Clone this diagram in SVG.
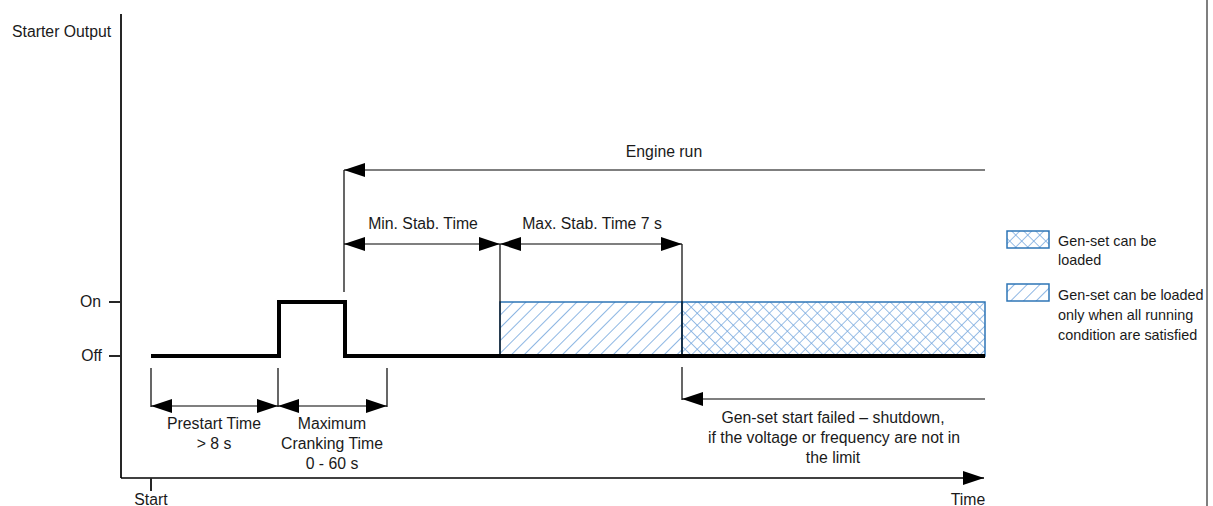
<svg xmlns="http://www.w3.org/2000/svg" width="1213" height="506" viewBox="0 0 1213 506">
<style>
text{font-family:"Liberation Sans",Arial,sans-serif;font-size:15.8px;fill:#1a1a1a}
.c{text-anchor:middle}
.e{text-anchor:end}
.lg{font-size:14.4px}
.axis{stroke:#262626;stroke-width:2;fill:none}
.thin{stroke:#000;stroke-width:1.2;fill:none}
.sig{stroke:#000;stroke-width:4;fill:none;stroke-linejoin:miter}
.hb{stroke:#2e75b6;stroke-width:1.5}
</style>
<defs>
<marker id="ah" markerUnits="userSpaceOnUse" markerWidth="21" markerHeight="14" refX="21" refY="7" orient="auto-start-reverse" viewBox="0 0 21 14">
<path d="M0,0 L21,7 L0,14 z" fill="#000"/>
</marker>
<pattern id="diag" patternUnits="userSpaceOnUse" width="9" height="9" patternTransform="rotate(45)">
<line x1="0" y1="0" x2="0" y2="9" stroke="#6fa3dc" stroke-width="1.6"/>
</pattern>
<pattern id="cross" patternUnits="userSpaceOnUse" width="8.5" height="8.5" patternTransform="rotate(45)">
<line x1="0" y1="0" x2="0" y2="8.5" stroke="#6fa3dc" stroke-width="1.4"/>
<line x1="0" y1="0" x2="8.5" y2="0" stroke="#6fa3dc" stroke-width="1.4"/>
</pattern>
</defs>
<rect width="1213" height="506" fill="#fff"/>
<line x1="1207" y1="0" x2="1207" y2="506" stroke="#7f7f7f" stroke-width="2"/>

<g id="hatch-areas">
<rect x="500" y="302" width="182" height="54" fill="url(#diag)" class="hb"/>
<rect x="682" y="302" width="303" height="54" fill="url(#cross)" class="hb"/>
</g>

<g id="axes">
<line class="axis" x1="121" y1="14" x2="121" y2="478"/>
<line x1="121" y1="478" x2="984" y2="478" stroke="#000" stroke-width="1.6" marker-end="url(#ah)"/>
<line class="axis" x1="109" y1="302" x2="121" y2="302"/>
<line class="axis" x1="109" y1="356" x2="121" y2="356"/>
<line class="axis" x1="151" y1="478" x2="151" y2="491"/>
<text x="12" y="37">Starter Output</text>
<text class="e" x="101" y="307">On</text>
<text class="e" x="102" y="361">Off</text>
<text class="c" x="151" y="505">Start</text>
<text class="c" x="968" y="505">Time</text>
</g>

<g id="signal">
<path class="sig" d="M151,356 H279 V302 H345 V356 H985"/>
</g>

<g id="connectors">
<line class="thin" x1="151" y1="368" x2="151" y2="407"/>
<line class="thin" x1="278" y1="368" x2="278" y2="407"/>
<line class="thin" x1="387" y1="368" x2="387" y2="407"/>
<line class="thin" x1="151" y1="406" x2="278" y2="406" marker-start="url(#ah)" marker-end="url(#ah)"/>
<line class="thin" x1="278" y1="406" x2="387" y2="406" marker-start="url(#ah)" marker-end="url(#ah)"/>
<line class="thin" x1="344" y1="170" x2="344" y2="292"/>
<line class="thin" x1="985" y1="170" x2="344" y2="170" marker-end="url(#ah)"/>
<line class="thin" x1="500" y1="244" x2="500" y2="356"/>
<line class="thin" x1="682" y1="244" x2="682" y2="356"/>
<line class="thin" x1="344" y1="244" x2="500" y2="244" marker-start="url(#ah)" marker-end="url(#ah)"/>
<line class="thin" x1="500" y1="244" x2="682" y2="244" marker-start="url(#ah)" marker-end="url(#ah)"/>
<line class="thin" x1="682" y1="367" x2="682" y2="400"/>
<line class="thin" x1="985" y1="399" x2="682" y2="399" marker-end="url(#ah)"/>
</g>

<g id="labels">
<text class="c" x="214" y="429">Prestart Time</text>
<text class="c" x="214" y="449">&gt; 8 s</text>
<text class="c" x="332" y="429">Maximum</text>
<text class="c" x="332" y="449">Cranking Time</text>
<text class="c" x="332" y="469">0 - 60 s</text>
<text class="c" x="664" y="157">Engine run</text>
<text class="c" x="423" y="229">Min. Stab. Time</text>
<text class="c" x="592" y="229">Max. Stab. Time 7 s</text>
<text class="c" x="833" y="423">Gen-set start failed – shutdown,</text>
<text class="c" x="834" y="443">if the voltage or frequency are not in</text>
<text class="c" x="833" y="463">the limit</text>
</g>

<g id="legend">
<rect x="1007" y="231" width="42" height="17" fill="url(#cross)" class="hb"/>
<text class="lg" x="1058" y="246">Gen-set can be</text>
<text class="lg" x="1058" y="265">loaded</text>
<rect x="1007" y="284" width="42" height="17" fill="url(#diag)" class="hb"/>
<text class="lg" x="1058" y="300">Gen-set can be loaded</text>
<text class="lg" x="1058" y="320">only when all running</text>
<text class="lg" x="1058" y="340">condition are satisfied</text>
</g>
</svg>
